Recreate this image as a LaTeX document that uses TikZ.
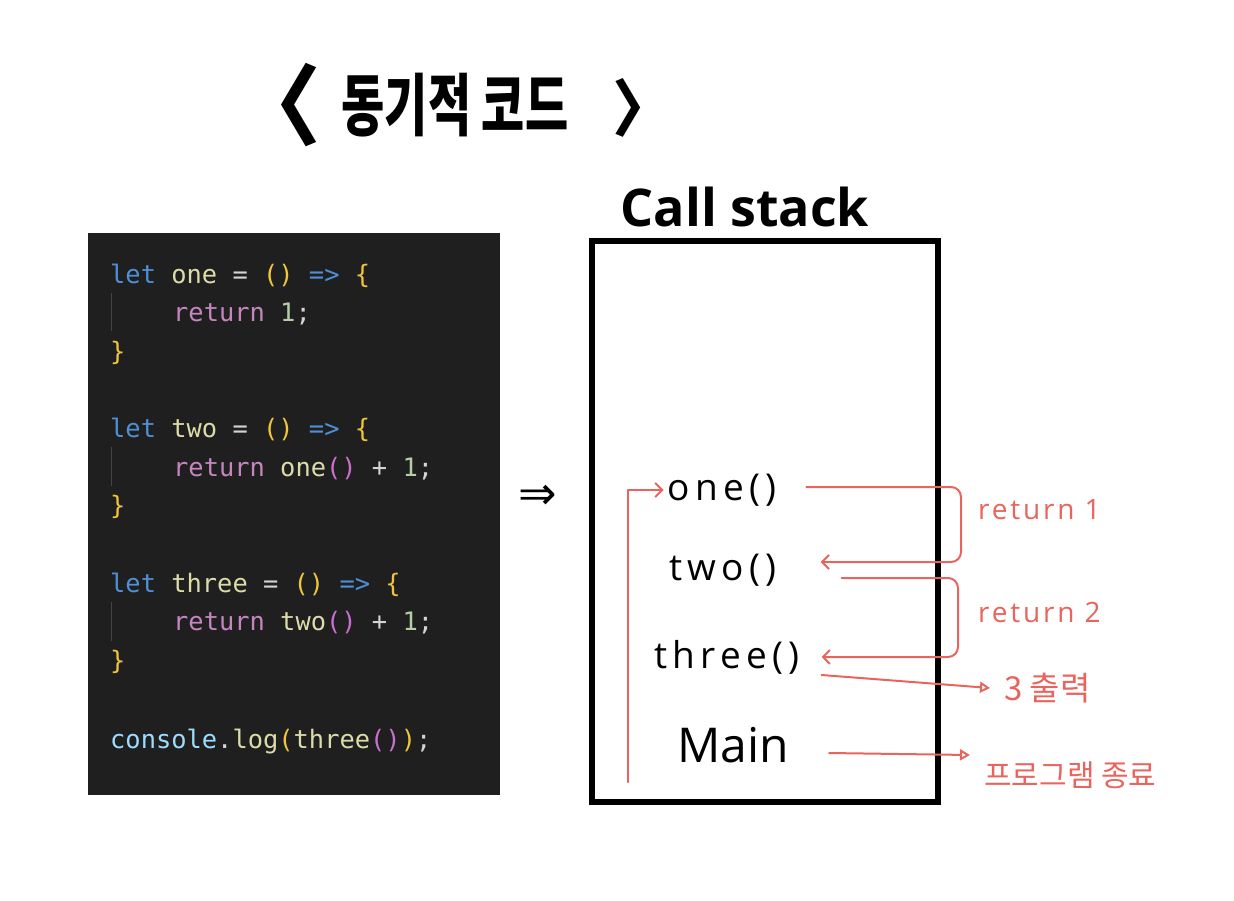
\documentclass[tikz,border=0pt]{standalone}
\usepackage{graphicx}
\usepackage{fontspec}
\setmainfont{Open Sans}
\setmonofont{DejaVu Sans Mono}
\newfontfamily\handfont[LetterSpace=14]{Open Sans}
\newfontfamily\notefont[LetterSpace=10]{Open Sans}
\newfontfamily\cjk{Noto Sans CJK KR}
\newfontfamily\symfont{DejaVu Sans}
\usetikzlibrary{arrows.meta,positioning}

\definecolor{codebg}{HTML}{1F1F1F}
\definecolor{kwblue}{HTML}{4F8FD6}
\definecolor{fnyellow}{HTML}{DCDCAA}
\definecolor{opgrey}{HTML}{D4D4D4}
\definecolor{braceyellow}{HTML}{F0C53C}
\definecolor{parenpink}{HTML}{C96FCF}
\definecolor{retpink}{HTML}{C586C0}
\definecolor{numgreen}{HTML}{B5CEA8}
\definecolor{varblue}{HTML}{9CDCFE}
\definecolor{guidegrey}{HTML}{454545}
\definecolor{penred}{HTML}{E8645C}

\newcommand{\ckw}[1]{\textcolor{kwblue}{#1}}
\newcommand{\cfn}[1]{\textcolor{fnyellow}{#1}}
\newcommand{\cbr}[1]{\textcolor{braceyellow}{#1}}
\newcommand{\cpar}[1]{\textcolor{parenpink}{#1}}
\newcommand{\cret}[1]{\textcolor{retpink}{#1}}
\newcommand{\cnum}[1]{\textcolor{numgreen}{#1}}
\newcommand{\cvar}[1]{\textcolor{varblue}{#1}}

\begin{document}
\begin{tikzpicture}[x=1pt, y=-1pt,
    code/.style={anchor=base west, inner sep=0pt, text=opgrey, font=\ttfamily\fontsize{25.4}{30}\selectfont},
    frame/.style={anchor=center, inner sep=0pt, font=\handfont\fontsize{37}{40}\selectfont},
    pen/.style={penred, line width=2pt, line cap=round, line join=round},
    note/.style={text=penred, inner sep=0pt, anchor=west, font=\notefont\fontsize{28}{30}\selectfont},
    knote/.style={text=penred, inner sep=0pt, anchor=west, font=\cjk\fontsize{33}{36}\selectfont}]
    %\draw[help lines] (0,0) grid[step=50] (1234,900);
    \useasboundingbox (0,0) rectangle (1234,900);

    % title
    \node[font=\cjk\bfseries\fontsize{88}{88}\selectfont] (lbrack) at (277,105) {〈};
    \node[font=\cjk\bfseries\fontsize{68}{70}\selectfont] (title) at (455,105) {\scalebox{0.69}[1]{동기적 코드}};
    \node[font=\cjk\bfseries\fontsize{62}{62}\selectfont] (rbrack) at (643,108) {〉};
    \node[font=\bfseries\fontsize{52}{54}\selectfont] (cstitle) at (745,207) {Call stack};

    % code
    \node[fill=codebg, anchor=north west, minimum width=412, minimum height=562, inner sep=0pt, outer sep=0pt] (code) at (88,233) {};
    \draw[guidegrey, line width=1pt] (111,293) -- (111,331);
    \draw[guidegrey, line width=1pt] (111,447) -- (111,486);
    \draw[guidegrey, line width=1pt] (111,602) -- (111,641);
    \node[code] (c1) at (110,283) {\ckw{let} \cfn{one} = \cbr{()} \ckw{=>} \cbr{\{}};
    \node[code] (c2) at (173,321) {\cret{return} \cnum{1};};
    \node[code] (c3) at (110,360) {\cbr{\}}};
    \node[code] (c4) at (110,437) {\ckw{let} \cfn{two} = \cbr{()} \ckw{=>} \cbr{\{}};
    \node[code] (c5) at (173,476) {\cret{return} \cfn{one}\cpar{()} + \cnum{1};};
    \node[code] (c6) at (110,514) {\cbr{\}}};
    \node[code] (c7) at (110,592) {\ckw{let} \cfn{three} = \cbr{()} \ckw{=>} \cbr{\{}};
    \node[code] (c8) at (173,630) {\cret{return} \cfn{two}\cpar{()} + \cnum{1};};
    \node[code] (c9) at (110,669) {\cbr{\}}};
    \node[code] (c10) at (110,748) {\cvar{console}.\cfn{log}\cbr{(}\cfn{three}\cpar{()}\cbr{)};};

    \node[font=\symfont\fontsize{46}{46}\selectfont] (goto) at (538,497) {⇒};

    % call stack
    \node[draw, line width=6pt, anchor=north west, minimum width=346, minimum height=561, inner sep=0pt, outer sep=0pt] (stack) at (592,241) {};
    \node[frame] (one) at (722,490) {one()};
    \node[frame] (two) at (723,570) {two()};
    \node[frame] (three) at (727,657) {three()};
    \node[frame, font=\normalfont\fontsize{48}{50}\selectfont] (main) at (733,745) {Main};

    % red notes
    \coordinate (callfoot) at (628,782);
    \coordinate (rail1) at (961,520);
    \coordinate (rail2) at (958,618);
    \coordinate (out3) at (990,688);
    \coordinate (out4) at (970,755);
    \draw[pen, -{Straight Barb[length=7pt, width=14pt]}] (callfoot) |- ([xshift=-4pt]one.west);
    \draw[pen, rounded corners=10pt, -{Straight Barb[length=7pt, width=14pt]}]
        ([xshift=30pt, yshift=3pt]one.east) -- ([yshift=3pt]one.east -| rail1) |- ([xshift=44pt, yshift=8pt]two.east);
    \draw[pen, rounded corners=10pt, -{Straight Barb[length=7pt, width=14pt]}]
        ([xshift=65pt, yshift=-8pt]two.east) -- ([yshift=-8pt]two.east -| rail2) |- ([xshift=22pt]three.east);
    \draw[pen, -{Triangle[open, length=10pt, width=11pt]}] ([xshift=22pt, yshift=-18pt]three.east) -- (out3);
    \draw[pen, -{Triangle[open, length=10pt, width=11pt]}] ([xshift=40pt, yshift=-8pt]main.east) -- (out4);
    \node[note] (ret1) at (978,510) {return 1};
    \node[note] (ret2) at (978,612) {return 2};
    \node[knote, right=14pt of out3] (print3) {3 출력};
    \node[knote, right=14pt of out4, yshift=-20pt, font=\cjk\fontsize{30}{33}\selectfont] (endprog) {프로그램 종료};
\end{tikzpicture}
\end{document}
